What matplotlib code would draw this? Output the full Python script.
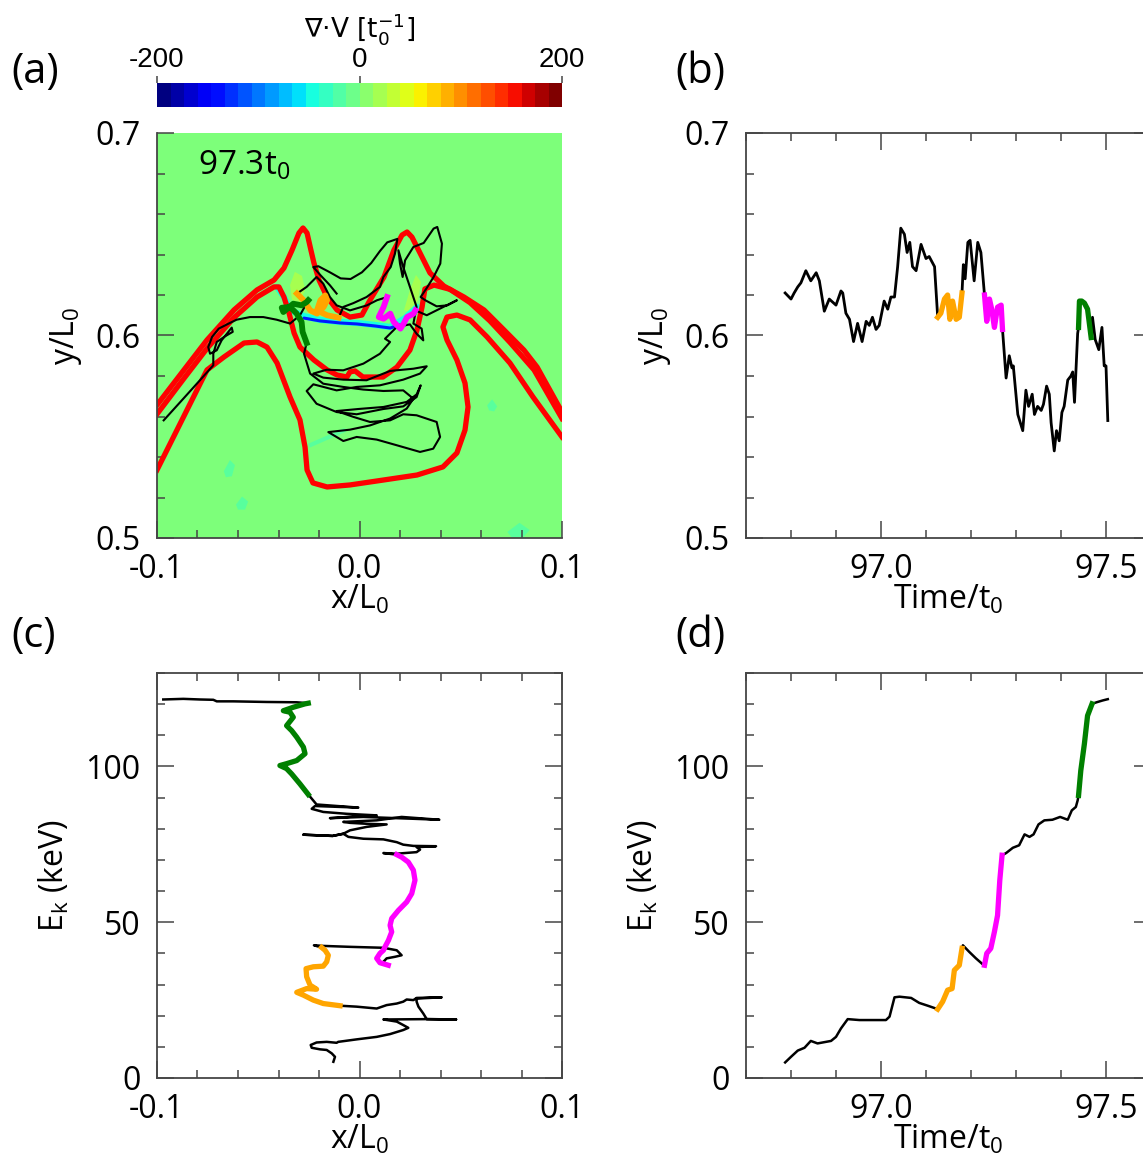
import numpy as np
import matplotlib
matplotlib.use("Agg")
import matplotlib.pyplot as plt
import matplotlib.cm as cm
from matplotlib.colors import Normalize
from matplotlib.ticker import MultipleLocator, FormatStrFormatter

plt.rcParams['font.family'] = ['Open Sans', 'DejaVu Sans']
plt.rcParams['mathtext.fontset'] = 'custom'
plt.rcParams['mathtext.rm'] = 'Open Sans'
plt.rcParams['mathtext.it'] = 'Open Sans:italic'
plt.rcParams['mathtext.bf'] = 'Open Sans:bold'
plt.rcParams['mathtext.default'] = 'regular'
plt.rcParams['axes.unicode_minus'] = False

# ---------------- data ----------------
div_range = (-200, 200)
cbar_ticks = [-200, 0, 200]
div_background = 0
div_streak_halo = -50
div_streak_core = -140
div_patch = 25
div_blob = -25
snap_label = '97.3t$_0$'

# red field lines (panel a)
red_p_x = [-0.100, -0.0867, -0.0753, -0.0620, -0.0506, -0.0422, -0.0373, -0.0333, -0.0299, -0.0279,
           -0.0259, -0.0240, -0.0225, -0.0200, -0.0160, -0.0111, -0.0047, 0.0012, 0.0052, 0.0121,
           0.0170, 0.0210, 0.0235, 0.0259, 0.0299, 0.0348, 0.0417, 0.0516, 0.0615, 0.0714,
           0.0812, 0.0877, 0.100]
red_p_y = [0.5657, 0.5830, 0.5978, 0.6126, 0.6225, 0.6274, 0.6333, 0.6422, 0.6506, 0.6531,
           0.6506, 0.6422, 0.6358, 0.6274, 0.6190, 0.6126, 0.6091, 0.6101, 0.6175, 0.6289,
           0.6422, 0.6496, 0.6511, 0.6486, 0.6407, 0.6309, 0.6244, 0.6190, 0.6126, 0.6027,
           0.5928, 0.5844, 0.5622]
red_q_x = [-0.100, -0.0867, -0.0753, -0.0620, -0.0506, -0.0422, -0.0398, -0.0373, -0.0348, -0.0323,
           -0.0294, -0.0225, -0.0160, -0.0111, -0.0062, -0.0047, -0.0022, 0.0017, 0.0116, 0.0185,
           0.0249, 0.0284, 0.0309, 0.0323, 0.0368, 0.0447, 0.0546, 0.0644, 0.0743, 0.0862, 0.100]
red_q_y = [0.5612, 0.5788, 0.5936, 0.6088, 0.6190, 0.6240, 0.6240, 0.6190, 0.6111, 0.6012,
           0.5943, 0.5879, 0.5830, 0.5805, 0.5795, 0.5820, 0.5825, 0.5795, 0.5795, 0.5844,
           0.5928, 0.6027, 0.6141, 0.6230, 0.6249, 0.6228, 0.6162, 0.6072, 0.5966, 0.5830, 0.5590]
red_u_x = [-0.100, -0.0753, -0.0669, -0.0570, -0.0506, -0.0457, -0.0407, -0.0343, -0.0294, -0.0269,
           -0.0259, -0.0230, -0.0160, -0.0047, 0.0116, 0.0284, 0.0412, 0.0481, 0.0521, 0.0536,
           0.0521, 0.0481, 0.0432, 0.0412, 0.0432, 0.0481, 0.0546, 0.0630, 0.0743, 0.0857, 0.100]
red_u_y = [0.5336, 0.5830, 0.5894, 0.5963, 0.5968, 0.5943, 0.5864, 0.5696, 0.5583, 0.5449,
           0.5336, 0.5272, 0.5252, 0.5262, 0.5286, 0.5311, 0.5351, 0.5420, 0.5533, 0.5647,
           0.5765, 0.5879, 0.5978, 0.6042, 0.6091, 0.6101, 0.6077, 0.5993, 0.5864, 0.5696, 0.5499]

# divergence features (panel a)
streak_halo_x = [-0.0407, -0.0373, -0.0343, -0.0274, -0.0195, -0.0096, -0.0012, 0.0077, 0.0151, 0.0225, 0.0284]
streak_halo_y = [0.6240, 0.6190, 0.6126, 0.6096, 0.6077, 0.6067, 0.6062, 0.6052, 0.6042, 0.6086, 0.6141]
streak_core_x = [-0.0274, -0.0195, -0.0096, -0.0012, 0.0077, 0.0151, 0.0200]
streak_core_y = [0.6086, 0.6072, 0.6062, 0.6057, 0.6047, 0.6037, 0.6052]
patch_l_x = [-0.0333, -0.0343, -0.0319, -0.0284, -0.0269, -0.0294]
patch_l_y = [0.6175, 0.6249, 0.6314, 0.6294, 0.6225, 0.6165]
patch_r_x = [0.0220, 0.0249, 0.0279, 0.0304, 0.0289, 0.0249]
patch_r_y = [0.6126, 0.6225, 0.6299, 0.6264, 0.6175, 0.6116]
blobs_x = [[-0.0670, -0.0640, -0.0615, -0.0630, -0.0660],
           [-0.0610, -0.0580, -0.0550, -0.0565, -0.0600],
           [0.0630, 0.0655, 0.0680, 0.0665, 0.0640],
           [0.0730, 0.0790, 0.0840, 0.0810, 0.0750]]
blobs_y = [[0.5330, 0.5385, 0.5360, 0.5305, 0.5300],
           [0.5165, 0.5205, 0.5180, 0.5140, 0.5140],
           [0.5655, 0.5685, 0.5650, 0.5625, 0.5630],
           [0.5030, 0.5075, 0.5040, 0.5005, 0.5005]]
faint_x = [-0.0240, -0.0160, -0.0080]
faint_y = [0.5460, 0.5495, 0.5530]

# particle trajectory in the x-y plane (panel a)
a_black1_x = [-0.0113, -0.0146, -0.0192, -0.0228, -0.0203, -0.0146, -0.0093, -0.0044, 0.0012, 0.0058,
              0.0101, 0.0137, 0.0187, 0.0175, 0.0154, 0.0118, 0.0101, 0.0035, -0.0030, -0.0080, -0.0103]
a_black1_y = [0.6207, 0.6248, 0.6297, 0.6338, 0.6342, 0.6312, 0.6282, 0.6279, 0.6312, 0.6358,
              0.6417, 0.6460, 0.6477, 0.6404, 0.6338, 0.6289, 0.6240, 0.6190, 0.6160, 0.6141, 0.6088]
a_orange_x = [-0.0103, -0.0160, -0.0210, -0.0193, -0.0169, -0.0160, -0.0177, -0.0210, -0.0243, -0.0276, -0.0309]
a_orange_y = [0.6088, 0.6100, 0.6124, 0.6174, 0.6198, 0.6174, 0.6141, 0.6108, 0.6124, 0.6174, 0.6207]
a_black2_x = [-0.0309, -0.0261, -0.0212, -0.0179, -0.0146, -0.0113, -0.0047, 0.0037, 0.0086, 0.0136]
a_black2_y = [0.6207, 0.6240, 0.6289, 0.6256, 0.6190, 0.6149, 0.6124, 0.6149, 0.6174, 0.6190]
a_magenta_x = [0.0136, 0.0119, 0.0095, 0.0119, 0.0152, 0.0169, 0.0202, 0.0218, 0.0235, 0.0267, 0.0276]
a_magenta_y = [0.6190, 0.6141, 0.6091, 0.6083, 0.6108, 0.6067, 0.6034, 0.6059, 0.6091, 0.6108, 0.6124]
a_black3_x = [0.0276, 0.0332, 0.0414, 0.0481, 0.0434, 0.0381, 0.0325, 0.0302, 0.0333, 0.0366,
              0.0399, 0.0407, 0.0384, 0.0366, 0.0317, 0.0266, 0.0225, 0.0213, 0.0200, 0.0192,
              0.0216, 0.0249, 0.0282, 0.0266, 0.0307, 0.0315, 0.0282, 0.0249, 0.0184, 0.0151,
              0.0126, 0.0151, 0.0101, 0.0019, -0.0080, -0.0162, -0.0228, -0.0179, -0.0080, 0.0035,
              0.0151, 0.0266, 0.0332, 0.0299, 0.0216, 0.0101, -0.0014, -0.0113, -0.0228, -0.0261,
              -0.0212, -0.0113, -0.0014, 0.0118, 0.0216, 0.0282, 0.0302, 0.0282, 0.0233, 0.0118,
              -0.0006, -0.0113, -0.0030, 0.0052, 0.0151, 0.0216, 0.0282, 0.0381, 0.0398, 0.0364,
              0.0299, 0.0184, 0.0085, -0.0014, -0.0080, -0.0154, -0.0047, 0.0052, 0.0151, 0.0233,
              0.0266, 0.0216, 0.0118, 0.0019, -0.0080, -0.0179, -0.0244, -0.0274, -0.0261]
a_black3_y = [0.6124, 0.6100, 0.6141, 0.6174, 0.6149, 0.6144, 0.6174, 0.6190, 0.6236, 0.6289,
              0.6355, 0.6454, 0.6536, 0.6528, 0.6457, 0.6437, 0.6371, 0.6289, 0.6355, 0.6421,
              0.6338, 0.6240, 0.6141, 0.6059, 0.6034, 0.5976, 0.6009, 0.6055, 0.6042, 0.6009,
              0.5984, 0.5968, 0.5910, 0.5861, 0.5828, 0.5831, 0.5812, 0.5792, 0.5782, 0.5779,
              0.5825, 0.5836, 0.5848, 0.5812, 0.5782, 0.5754, 0.5746, 0.5729, 0.5759, 0.5726,
              0.5663, 0.5622, 0.5611, 0.5637, 0.5650, 0.5696, 0.5754, 0.5709, 0.5672, 0.5647,
              0.5637, 0.5627, 0.5598, 0.5573, 0.5581, 0.5611, 0.5606, 0.5573, 0.5499, 0.5441,
              0.5425, 0.5458, 0.5486, 0.5499, 0.5479, 0.5523, 0.5535, 0.5556, 0.5590, 0.5639,
              0.5688, 0.5729, 0.5726, 0.5733, 0.5746, 0.5762, 0.5812, 0.5910, 0.5963]
a_green_x = [-0.0261, -0.0281, -0.0286, -0.0310, -0.0343, -0.0384, -0.0376, -0.0327, -0.0286, -0.0261, -0.0253]
a_green_y = [0.5963, 0.6018, 0.6067, 0.6108, 0.6141, 0.6137, 0.6116, 0.6157, 0.6149, 0.6165, 0.6174]
a_black4_x = [-0.0253, -0.0294, -0.0343, -0.0409, -0.0475, -0.0541, -0.0607, -0.0646, -0.0695, -0.0728,
              -0.0747, -0.0738, -0.0705, -0.0681, -0.0631, -0.0626, -0.0664, -0.0705, -0.0722, -0.0722,
              -0.0788, -0.0870, -0.0967]
a_black4_y = [0.6174, 0.6100, 0.6059, 0.6078, 0.6091, 0.6091, 0.6078, 0.6059, 0.6034, 0.5993,
              0.5943, 0.5910, 0.5927, 0.5976, 0.6039, 0.6018, 0.5996, 0.5968, 0.5910, 0.5853,
              0.5779, 0.5688, 0.5581]

# y versus time (panel b)
b_black1_t = [96.787, 96.800, 96.807, 96.815, 96.822, 96.833, 96.844, 96.856, 96.863, 96.874,
              96.885, 96.900, 96.911, 96.915, 96.922, 96.930, 96.939, 96.948, 96.958, 96.967,
              96.974, 96.981, 96.989, 96.996, 97.007, 97.015, 97.022, 97.030, 97.037, 97.044,
              97.052, 97.058, 97.064, 97.070, 97.078, 97.089, 97.100, 97.107, 97.119, 97.126]
b_black1_y = [0.621, 0.618, 0.621, 0.624, 0.626, 0.632, 0.627, 0.631, 0.627, 0.612,
              0.618, 0.615, 0.622, 0.621, 0.611, 0.608, 0.597, 0.606, 0.597, 0.607,
              0.605, 0.609, 0.603, 0.605, 0.617, 0.613, 0.619, 0.619, 0.634, 0.653,
              0.650, 0.641, 0.646, 0.634, 0.632, 0.645, 0.638, 0.639, 0.634, 0.609]
b_orange_t = [97.126, 97.133, 97.141, 97.148, 97.153, 97.159, 97.167, 97.174, 97.180]
b_orange_y = [0.609, 0.611, 0.618, 0.620, 0.608, 0.617, 0.608, 0.609, 0.621]
b_black2_t = [97.180, 97.183, 97.187, 97.193, 97.198, 97.207, 97.215, 97.222, 97.230]
b_black2_y = [0.621, 0.635, 0.628, 0.646, 0.647, 0.627, 0.646, 0.641, 0.620]
b_magenta_t = [97.230, 97.235, 97.241, 97.246, 97.252, 97.259, 97.267, 97.270]
b_magenta_y = [0.620, 0.607, 0.618, 0.613, 0.604, 0.614, 0.615, 0.603]
b_black3_t = [97.270, 97.274, 97.278, 97.285, 97.291, 97.294, 97.304, 97.315, 97.322, 97.328,
              97.336, 97.341, 97.348, 97.356, 97.361, 97.368, 97.374, 97.378, 97.385, 97.390,
              97.396, 97.402, 97.407, 97.415, 97.422, 97.426, 97.430, 97.437, 97.439]
b_black3_y = [0.603, 0.591, 0.579, 0.590, 0.584, 0.585, 0.561, 0.553, 0.573, 0.565,
              0.571, 0.561, 0.565, 0.563, 0.566, 0.575, 0.571, 0.557, 0.543, 0.553,
              0.548, 0.562, 0.565, 0.578, 0.580, 0.582, 0.567, 0.601, 0.604]
b_green_t = [97.439, 97.441, 97.446, 97.452, 97.459, 97.463, 97.467]
b_green_y = [0.604, 0.617, 0.617, 0.616, 0.613, 0.606, 0.599]
b_black4_t = [97.467, 97.470, 97.476, 97.484, 97.491, 97.496, 97.500, 97.504]
b_black4_y = [0.599, 0.609, 0.598, 0.593, 0.604, 0.585, 0.585, 0.558]

# kinetic energy versus x (panel c)
c_black1_x = [-0.0129, -0.0121, -0.0137, -0.0162, -0.0195, -0.0236, -0.0241, -0.0212, -0.0162, -0.0113,
              -0.0105, -0.0014, 0.0085, 0.0151, 0.0216, 0.0241, 0.0216, 0.0184, 0.0118, 0.0151,
              0.0332, 0.0477, 0.0332, 0.0315, 0.0291, 0.0282, 0.0282, 0.0406, 0.0282, 0.0266,
              0.0233, 0.0216, 0.0184, 0.0134, 0.0085, -0.0014, -0.0096]
c_black1_e = [5.2, 6.8, 7.9, 9.0, 9.2, 9.7, 10.6, 11.4, 11.6, 11.3,
              11.6, 12.4, 13.2, 14.1, 15.4, 16.1, 17.0, 18.1, 18.8, 18.8,
              18.9, 18.8, 18.9, 20.7, 22.9, 24.5, 25.5, 25.9, 25.7, 25.0,
              25.2, 24.5, 23.9, 23.4, 22.3, 22.9, 23.2]
c_orange_x = [-0.0096, -0.0179, -0.0228, -0.0277, -0.0310, -0.0261, -0.0212, -0.0244, -0.0261, -0.0264,
              -0.0228, -0.0179, -0.0162, -0.0154, -0.0170, -0.0187]
c_orange_e = [23.2, 23.9, 25.0, 26.6, 27.5, 28.7, 28.5, 29.8, 32.5, 35.1,
              35.7, 35.9, 37.3, 39.4, 41.0, 41.9]
c_black2_x = [-0.0187, -0.0225, -0.0179, -0.0047, 0.0118, 0.0184, 0.0208, 0.0175, 0.0134, 0.0118, 0.0142]
c_black2_e = [41.9, 42.6, 42.4, 42.1, 41.8, 41.0, 39.4, 38.9, 38.4, 37.3, 36.2]
c_magenta_x = [0.0142, 0.0101, 0.0085, 0.0101, 0.0118, 0.0126, 0.0143, 0.0159, 0.0151, 0.0159,
               0.0192, 0.0233, 0.0258, 0.0274, 0.0266, 0.0241, 0.0208, 0.0184]
c_magenta_e = [36.2, 37.0, 38.4, 40.0, 41.0, 42.1, 44.2, 46.9, 49.0, 51.2,
               53.8, 56.5, 59.2, 63.5, 66.7, 69.3, 70.9, 71.7]
c_black3_x = [0.0184, 0.0118, 0.0184, 0.0282, 0.0299, 0.0282, 0.0378, 0.0266, 0.0216, 0.0184,
              0.0118, 0.0019, -0.0055, -0.0080, -0.0133, -0.0277, -0.0133, -0.0080, -0.0047, 0.0035,
              0.0134, 0.0035, -0.0047, -0.0080, 0.0085, 0.0208, 0.0394, 0.0019, -0.0146, -0.0014,
              0.0085, -0.0063, -0.0179, -0.0236, -0.0220, -0.0006, -0.0212, -0.0253]
c_black3_e = [71.7, 72.2, 72.0, 72.5, 73.3, 74.1, 74.4, 74.5, 74.9, 75.7,
              76.6, 76.8, 77.4, 78.4, 77.7, 78.1, 77.7, 78.4, 79.5, 80.6,
              81.4, 81.6, 81.9, 82.2, 82.7, 83.8, 82.9, 83.8, 83.4, 84.0,
              84.3, 84.8, 85.4, 86.4, 87.3, 86.8, 87.8, 91.0]
c_green_x = [-0.0253, -0.0294, -0.0335, -0.0360, -0.0393, -0.0360, -0.0310, -0.0269, -0.0277, -0.0310,
             -0.0335, -0.0360, -0.0327, -0.0343, -0.0376, -0.0327, -0.0269, -0.0253]
c_green_e = [91.0, 94.4, 97.6, 99.3, 100.3, 100.9, 101.9, 104.1, 106.2, 109.4,
             111.5, 113.1, 115.8, 117.4, 117.9, 119.0, 120.1, 120.3]
c_black4_x = [-0.0253, -0.0310, -0.0458, -0.0623, -0.0705, -0.0722, -0.0788, -0.0870, -0.0969]
c_black4_e = [120.3, 120.6, 120.7, 120.9, 120.9, 121.4, 121.5, 121.7, 121.5]

# kinetic energy versus time (panel d)
d_black1_t = [96.787, 96.800, 96.815, 96.830, 96.844, 96.859, 96.889, 96.900, 96.911, 96.926,
              96.952, 96.981, 97.011, 97.019, 97.030, 97.041, 97.067, 97.085, 97.104, 97.126]
d_black1_e = [5.0, 6.8, 8.8, 9.7, 11.9, 11.1, 11.9, 13.2, 15.9, 18.9,
              18.6, 18.6, 18.6, 19.7, 25.9, 26.1, 25.7, 24.1, 23.2, 22.1]
d_orange_t = [97.126, 97.137, 97.148, 97.158, 97.163, 97.174, 97.180]
d_orange_e = [22.1, 24.5, 28.2, 28.7, 34.6, 36.2, 41.6]
d_black2_t = [97.180, 97.182, 97.196, 97.211, 97.226, 97.230]
d_black2_e = [41.6, 42.6, 40.5, 38.4, 36.5, 36.2]
d_magenta_t = [97.230, 97.235, 97.244, 97.252, 97.259, 97.264, 97.269]
d_magenta_e = [36.2, 40.0, 41.6, 46.9, 52.2, 63.5, 71.5]
d_black3_t = [97.269, 97.278, 97.293, 97.307, 97.319, 97.330, 97.339, 97.350, 97.363, 97.381,
              97.398, 97.415, 97.424, 97.433, 97.437, 97.439]
d_black3_e = [71.5, 72.2, 73.9, 74.7, 78.2, 77.4, 78.2, 81.4, 82.7, 82.9,
              83.8, 82.9, 85.9, 87.0, 89.1, 90.7]
d_green_t = [97.439, 97.444, 97.452, 97.459, 97.469]
d_green_e = [90.7, 98.7, 107.3, 116.3, 120.1]
d_black4_t = [97.469, 97.479, 97.493, 97.504]
d_black4_e = [120.1, 120.6, 121.2, 121.6]

# ---------------- figure ----------------
W, H = 1143, 1164
fig = plt.figure(figsize=(W / 100, H / 100), dpi=100)

def frac(x0, y0, x1, y1):
    return [x0 / W, 1 - y1 / H, (x1 - x0) / W, (y1 - y0) / H]

cmap = plt.get_cmap('jet', 30)      # stepped map for the colour bar
fmap = plt.get_cmap('jet')          # smooth map for the field
norm = Normalize(*div_range)
spine_col = '#454545'
FS = 23

def style(ax, all_sides=True):
    for side, sp in ax.spines.items():
        sp.set_color(spine_col)
        sp.set_linewidth(1.3)
        if not all_sides and side in ('top', 'right'):
            sp.set_visible(False)
    ax.tick_params(which='both', direction='in', color=spine_col, labelsize=FS,
                   top=all_sides, right=all_sides)
    ax.tick_params(which='major', length=12, width=1.1)
    ax.tick_params(which='minor', length=6, width=1.1)
    ax.tick_params(axis='y', which='major', pad=12)
    ax.tick_params(axis='x', which='major', pad=11)

# colorbar
cax = fig.add_axes(frac(157, 83, 562, 107))
cb = fig.colorbar(cm.ScalarMappable(norm=norm, cmap=cmap), cax=cax,
                  orientation='horizontal', ticks=cbar_ticks)
cb.outline.set_visible(False)
cax.xaxis.set_ticks_position('top')
cax.tick_params(direction='out', length=5, width=1.1, color=spine_col, labelsize=20, pad=2)
for t in cax.get_xticklabels():
    t.set_family(['Liberation Sans', 'DejaVu Sans'])
cax.set_title('∇·V [t$_0^{-1}$]', fontsize=19, pad=2, family=['DejaVu Sans'])

# (a)
ax_a = fig.add_axes(frac(157, 133, 562, 538))
ax_a.set_facecolor(fmap(norm(div_background)))
for bx, by in zip(blobs_x, blobs_y):
    ax_a.fill(bx, by, color=fmap(norm(div_blob)), lw=0, alpha=0.7, zorder=1)
ax_a.plot(faint_x, faint_y, color=fmap(norm(div_blob)), lw=3, alpha=0.7, zorder=1)
ax_a.fill(patch_l_x, patch_l_y, color=fmap(norm(div_patch)), lw=0, alpha=0.8, zorder=1)
ax_a.fill(patch_r_x, patch_r_y, color=fmap(norm(div_patch)), lw=0, alpha=0.8, zorder=1)
ax_a.plot(streak_halo_x, streak_halo_y, color=fmap(norm(div_streak_halo)), lw=4.5,
          solid_capstyle='round', zorder=1.5)
ax_a.plot(streak_core_x, streak_core_y, color=fmap(norm(div_streak_core)), lw=2.2,
          solid_capstyle='round', zorder=1.6)
for xs, ys in [(red_p_x, red_p_y), (red_q_x, red_q_y), (red_u_x, red_u_y)]:
    ax_a.plot(xs, ys, color='#ff0000', lw=3.8, solid_joinstyle='round', zorder=2)
for xs, ys in [(a_black1_x, a_black1_y), (a_black2_x, a_black2_y),
               (a_black3_x, a_black3_y), (a_black4_x, a_black4_y)]:
    ax_a.plot(xs, ys, color='black', lw=1.5, zorder=3)
ax_a.plot(a_orange_x, a_orange_y, color='orange', lw=4.2, zorder=4)
ax_a.plot(a_magenta_x, a_magenta_y, color='magenta', lw=4.2, zorder=4)
ax_a.plot(a_green_x, a_green_y, color='green', lw=4.2, zorder=4)
ax_a.set_xlim(-0.1, 0.1)
ax_a.set_ylim(0.5, 0.7)
ax_a.text(0.10, 0.92, snap_label, transform=ax_a.transAxes, fontsize=24, va='center', ha='left')
style(ax_a, all_sides=False)

# (b)
ax_b = fig.add_axes(frac(746, 133, 1151, 538))
for ts, ys in [(b_black1_t, b_black1_y), (b_black2_t, b_black2_y),
               (b_black3_t, b_black3_y), (b_black4_t, b_black4_y)]:
    ax_b.plot(ts, ys, color='black', lw=2)
ax_b.plot(b_orange_t, b_orange_y, color='orange', lw=3.8)
ax_b.plot(b_magenta_t, b_magenta_y, color='magenta', lw=3.8)
ax_b.plot(b_green_t, b_green_y, color='green', lw=3.8)
ax_b.set_xlim(96.7, 97.6)
ax_b.set_ylim(0.5, 0.7)
style(ax_b)

# (c)
ax_c = fig.add_axes(frac(157, 673, 562, 1078))
for xs, es in [(c_black1_x, c_black1_e), (c_black2_x, c_black2_e),
               (c_black3_x, c_black3_e), (c_black4_x, c_black4_e)]:
    ax_c.plot(xs, es, color='black', lw=1.8)
ax_c.plot(c_orange_x, c_orange_e, color='orange', lw=3.8)
ax_c.plot(c_magenta_x, c_magenta_e, color='magenta', lw=3.8)
ax_c.plot(c_green_x, c_green_e, color='green', lw=3.8)
ax_c.set_xlim(-0.1, 0.1)
ax_c.set_ylim(0, 130)
style(ax_c)

# (d)
ax_d = fig.add_axes(frac(746, 673, 1151, 1078))
for ts, es in [(d_black1_t, d_black1_e), (d_black2_t, d_black2_e),
               (d_black3_t, d_black3_e), (d_black4_t, d_black4_e)]:
    ax_d.plot(ts, es, color='black', lw=1.8)
ax_d.plot(d_orange_t, d_orange_e, color='orange', lw=3.8)
ax_d.plot(d_magenta_t, d_magenta_e, color='magenta', lw=3.8)
ax_d.plot(d_green_t, d_green_e, color='green', lw=3.8)
ax_d.set_xlim(96.7, 97.6)
ax_d.set_ylim(0, 130)
style(ax_d)

for ax in (ax_a, ax_c):
    ax.xaxis.set_major_locator(MultipleLocator(0.1))
    ax.xaxis.set_minor_locator(MultipleLocator(0.02))
    ax.xaxis.set_major_formatter(FormatStrFormatter('%.1f'))
    ax.set_xlabel('x/L$_0$', fontsize=FS, labelpad=-2)
for ax in (ax_b, ax_d):
    ax.xaxis.set_major_locator(MultipleLocator(0.5))
    ax.xaxis.set_minor_locator(MultipleLocator(0.1))
    ax.xaxis.set_major_formatter(FormatStrFormatter('%.1f'))
    ax.set_xlabel('Time/t$_0$', fontsize=FS, labelpad=-2)
for ax in (ax_a, ax_b):
    ax.yaxis.set_major_locator(MultipleLocator(0.1))
    ax.yaxis.set_minor_locator(MultipleLocator(0.02))
    ax.yaxis.set_major_formatter(FormatStrFormatter('%.1f'))
    ax.set_ylabel('y/L$_0$', fontsize=FS, labelpad=8)
for ax in (ax_c, ax_d):
    ax.yaxis.set_major_locator(MultipleLocator(50))
    ax.yaxis.set_minor_locator(MultipleLocator(10))
    ax.set_ylabel('E$_k$ (keV)', fontsize=FS, labelpad=10)

for lab, px, py in [('(a)', 11, 72), ('(b)', 675, 72), ('(c)', 11, 636), ('(d)', 675, 636)]:
    fig.text(px / W, 1 - py / H, lab, fontsize=30, va='center', ha='left')

fig.savefig('out.png', dpi=100)
